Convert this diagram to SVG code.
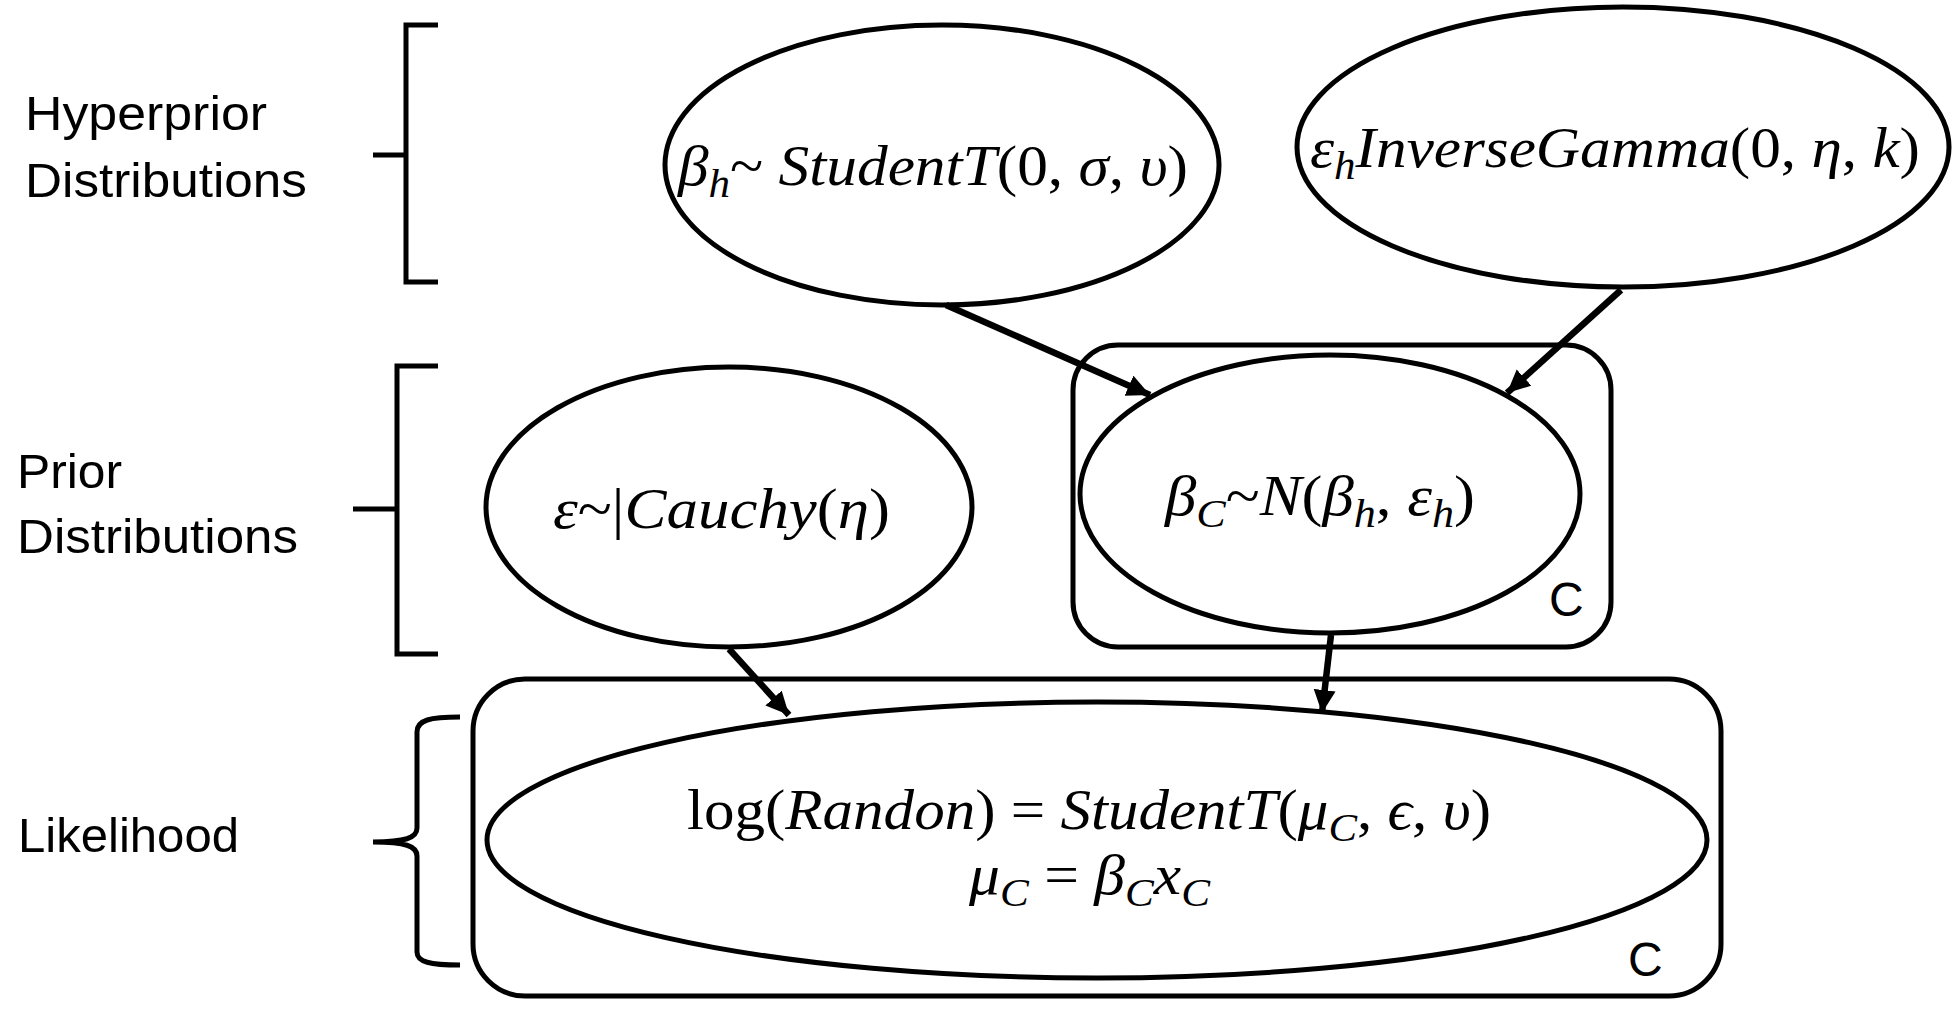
<svg xmlns="http://www.w3.org/2000/svg" width="1957" height="1010" viewBox="0 0 1957 1010">
<style>
.shape{fill:none;stroke:#000;stroke-width:5}
.node{fill:#fff;stroke:#000;stroke-width:5}
.brk{fill:none;stroke:#000;stroke-width:5}
.lbl{font-family:"Liberation Sans",Arial,sans-serif;font-size:48px;fill:#000}
.math{font-family:"Liberation Serif","Times New Roman",serif;font-size:57px;fill:#000}
.it{font-style:italic}
.sub{font-size:40px}
.edge{fill:none;stroke:#000;stroke-width:6.5}
</style>
<defs>
<marker id="ah" markerUnits="userSpaceOnUse" markerWidth="26" markerHeight="24" refX="23" refY="11" orient="auto">
<path d="M0,0 L23,11 L0,22 z" fill="#000"/>
</marker>
</defs>
<rect width="1957" height="1010" fill="#fff"/>

<g id="labels">
<text class="lbl" x="25" y="130" textLength="242" lengthAdjust="spacingAndGlyphs">Hyperprior</text>
<text class="lbl" x="25" y="197" textLength="282" lengthAdjust="spacingAndGlyphs">Distributions</text>
<text class="lbl" x="17" y="488" textLength="105" lengthAdjust="spacingAndGlyphs">Prior</text>
<text class="lbl" x="17" y="553" textLength="281" lengthAdjust="spacingAndGlyphs">Distributions</text>
<text class="lbl" x="18" y="852" textLength="221" lengthAdjust="spacingAndGlyphs">Likelihood</text>
</g>

<g id="brackets">
<path class="brk" d="M438,25 H406 V282 H438 M373,155 H406"/>
<path class="brk" d="M438,366 H397 V654 H438 M353,509 H397"/>
<path class="brk" d="M460,717 C430,717 417,720 417,732 L417,828 C417,838 405,842 373,842 C405,842 417,846 417,856 L417,952 C417,962 430,965 460,965"/>
</g>

<g id="plate-likelihood">
<rect class="shape" x="473" y="679" width="1248" height="317" rx="52" ry="52"/>
<text class="lbl" x="1628" y="976" font-size="46">C</text>
</g>

<g id="plate-beta">
<rect class="shape" x="1073" y="345" width="538" height="302" rx="45" ry="45"/>
<text class="lbl" x="1549" y="616" font-size="45">C</text>
</g>

<g id="node-beta-h">
<ellipse class="node" cx="942" cy="165" rx="277" ry="140"/>
<text class="math" x="678" y="185" textLength="510" lengthAdjust="spacingAndGlyphs"><tspan class="it">β</tspan><tspan class="it sub" dy="12">h</tspan><tspan dy="-12">~ </tspan><tspan class="it">StudentT</tspan>(0, <tspan class="it">σ</tspan>, <tspan class="it">υ</tspan>)</text>
</g>

<g id="node-eps-h">
<ellipse class="node" cx="1623" cy="147" rx="326" ry="140"/>
<text class="math" x="1310" y="167" textLength="610" lengthAdjust="spacingAndGlyphs"><tspan class="it">ε</tspan><tspan class="it sub" dy="12">h</tspan><tspan class="it" dy="-12">InverseGamma</tspan>(0, <tspan class="it">η</tspan>, <tspan class="it">k</tspan>)</text>
</g>

<g id="node-eps">
<ellipse class="node" cx="729" cy="507" rx="243" ry="140"/>
<text class="math" x="553" y="528" textLength="337" lengthAdjust="spacingAndGlyphs"><tspan class="it">ε</tspan>~|<tspan class="it">Cauchy</tspan>(<tspan class="it">η</tspan>)</text>
</g>

<g id="node-beta-c">
<ellipse class="node" cx="1330" cy="494" rx="250" ry="139"/>
<text class="math" x="1165" y="515" textLength="310" lengthAdjust="spacingAndGlyphs"><tspan class="it">β</tspan><tspan class="it sub" dy="12">C</tspan><tspan dy="-12">~</tspan><tspan class="it">N</tspan>(<tspan class="it">β</tspan><tspan class="it sub" dy="12">h</tspan><tspan dy="-12">, </tspan><tspan class="it">ε</tspan><tspan class="it sub" dy="12">h</tspan><tspan dy="-12">)</tspan></text>
</g>

<g id="node-likelihood">
<ellipse class="node" cx="1097" cy="840" rx="610" ry="138"/>
<text class="math" x="687" y="829" textLength="804" lengthAdjust="spacingAndGlyphs">log(<tspan class="it">Randon</tspan>) = <tspan class="it">StudentT</tspan>(<tspan class="it">μ</tspan><tspan class="it sub" dy="12">C</tspan><tspan dy="-12">, </tspan><tspan class="it">ϵ</tspan>, <tspan class="it">υ</tspan>)</text>
<text class="math" x="969" y="894" textLength="241" lengthAdjust="spacingAndGlyphs"><tspan class="it">μ</tspan><tspan class="it sub" dy="12">C</tspan><tspan dy="-12"> = </tspan><tspan class="it">β</tspan><tspan class="it sub" dy="12">C</tspan><tspan class="it" dy="-12">x</tspan><tspan class="it sub" dy="12">C</tspan></text>
</g>

<g id="connectors">
<line class="edge" x1="946" y1="305" x2="1150" y2="395" marker-end="url(#ah)"/>
<line class="edge" x1="1621" y1="290" x2="1507" y2="393" marker-end="url(#ah)"/>
<line class="edge" x1="729" y1="649" x2="789" y2="715" marker-end="url(#ah)"/>
<line class="edge" x1="1331" y1="635" x2="1322" y2="713" marker-end="url(#ah)"/>
</g>
</svg>
